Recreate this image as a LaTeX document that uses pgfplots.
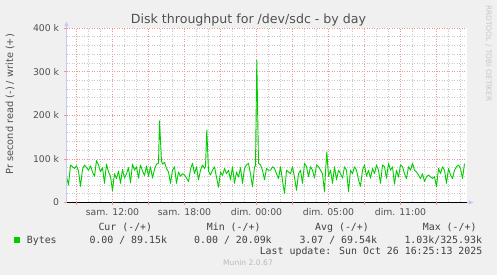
\documentclass[border=0pt]{standalone}
\usepackage{pgfplots}
\pgfplotsset{compat=1.18}
\usepackage{fontspec}
\setmainfont{DejaVu Sans}
\newfontfamily\dvs{DejaVu Sans}
\newfontfamily\dvsm{DejaVu Sans Mono}
\definecolor{bg}{HTML}{F0F0F0}
\definecolor{majgrid}{RGB}{236,150,150}
\definecolor{mingrid}{RGB}{200,200,200}
\definecolor{axcol}{RGB}{200,200,245}
\definecolor{labgray}{HTML}{505050}
\definecolor{leggray}{HTML}{404040}
\definecolor{wm}{RGB}{200,200,200}
\definecolor{munin}{RGB}{185,185,185}
\definecolor{dgreen}{HTML}{00CC00}
\begin{document}
\begin{tikzpicture}[x=1pt,y=1pt]
\fill[bg] (0,0) rectangle (497,275);
\fill[white] (66.5,72.5) rectangle (466.5,247);
\begin{axis}[
  at={(66.5pt,72.5pt)}, anchor=south west,
  scale only axis, width=400pt, height=174.5pt,
  xmin=0, xmax=400, ymin=0, ymax=400,
  axis line style={draw=none},
  grid=both,
  major grid style={draw=majgrid, dash pattern=on 1pt off 1.5pt, line width=0.6pt},
  minor grid style={draw=mingrid, dash pattern=on 1pt off 1.5pt, line width=0.6pt},
  xtick={10,46,82,118,154,190,226,262,298,334,370},
  xticklabels={,sam. 12:00,,sam. 18:00,,dim. 00:00,,dim. 05:00,,dim. 11:00,},
  minor xtick={22,34,58,70,94,106,130,142,166,178,202,214,238,250,274,286,310,322,346,358,382,394},
  ytick={0,100,200,300,400},
  yticklabels={0,100 k,200 k,300 k,400 k},
  minor ytick={20,40,60,80,120,140,160,180,220,240,260,280,320,340,360,380},
  major tick length=0pt, minor tick length=0pt,
  /pgf/number format/assume math mode=true,
  tick label style={font=\dvs\fontsize{9.3}{11}\selectfont, text=labgray},
  yticklabel style={anchor=east, inner sep=0pt, xshift=-7.2pt},
  xticklabel style={anchor=base, inner sep=0pt, yshift=-13.5pt},
  clip=false,
]
\addplot[draw=dgreen, line width=0.9pt, line join=round] coordinates {
(0,60) (2,40) (4,86) (6,82) (8,78) (10,84) (12,72) (14,37) (16,76) (18,86) (20,80) (22,74) (24,84) (26,70) (28,60) (30,96) (32,86) (34,70) (36,80) (38,44) (40,88) (42,70) (44,60) (46,27) (48,66)
(50,55) (52,72) (54,44) (56,76) (58,56) (60,66) (62,80) (64,45) (66,88) (68,74) (70,82) (72,56) (74,86) (76,72) (78,62) (80,84) (82,60) (84,82) (86,56) (88,76) (90,88) (92,90) (93,187) (95,95) (96,88) (98,92) (100,78) (102,70) (104,44)
(106,74) (108,82) (110,44) (112,70) (114,60) (116,66) (118,63) (120,56) (122,48) (124,76) (126,90) (128,66) (130,82) (132,52) (134,74) (136,86) (138,78) (139,82) (140.3,166) (142,72) (144,63) (146,74) (148,82) (150,58) (152,35) (154,70) (156,62) (158,78) (160,66) (162,74) (164,52) (166,82) (168,44) (170,70) (172,58) (174,80) (176,44) (178,78) (180,86) (182,90) (184,66) (186,36) (188,82) (189,84) (190.3,326) (192,90) (194,86) (196,74) (198,52) (200,78) (202,74)
(204,74) (206,82) (208,78) (210,66) (212,55) (214,82) (216,50) (218,21) (220,74) (222,70) (224,66) (226,82) (228,58) (230,28) (232,66) (234,74) (236,44) (238,90) (240,82) (242,59) (244,82) (246,74) (248,56) (250,86) (252,82) (254,74) (256,66) (258,25) (259,70) (260.3,116) (262,60) (264,74) (266,44) (268,82) (270,52) (272,74) (274,66) (276,56) (278,82) (280,74) (282,25) (284,74) (286,66) (288,82) (290,74) (292,52) (294,37) (296,74) (298,86) (300,60) (302,74)
(304,56) (306,78) (308,66) (310,86) (312,74) (314,44) (316,86) (318,82) (320,55) (322,90) (324,74) (326,82) (328,42) (330,74) (332,58) (334,86) (336,82) (338,66) (340,55) (342,82) (344,74) (346,90) (348,74) (350,70) (352,63) (354,55) (356,66) (358,48) (360,59) (362,63) (364,59) (366,55) (368,59) (370,36) (372,78) (374,66) (376,82) (378,74) (380,44) (382,78) (384,63) (386,55) (388,74) (390,82) (392,86) (394,78) (396,55) (398,89)
};
\addplot[draw=black, line width=1.1pt] coordinates {(0,0) (400,0)};
\end{axis}
% axis decorations
\draw[axcol, line width=0.8pt] (66.5,72.5) -- (66.5,250);
\fill[axcol] (66.5,253.5) -- (64.2,248.8) -- (68.8,248.8) -- cycle;
\draw[axcol, line width=0.8pt] (466.5,72.5) -- (469,72.5);
\fill[axcol] (473.5,72.5) -- (468.5,74.8) -- (468.5,70.2) -- cycle;
\foreach \k in {0,...,10} {\draw[majgrid, line width=0.7pt] (76.5+36*\k,72.5) -- ++(0,-2.5);}
\foreach \k in {0,...,4} {\draw[majgrid, line width=0.7pt] (66.5,72.5+43.625*\k) -- ++(-2.5,0);}
% title and labels
\node[font=\dvs\fontsize{12.6}{15}\selectfont, text=labgray, anchor=base, inner sep=0pt] at (248.5,251) {Disk throughput for /dev/sdc - by day};
\node[font=\dvs\fontsize{9.8}{12}\selectfont, text=labgray, rotate=90, inner sep=0pt] at (10,170.8) {Pr second read (-) / write (+)};
\node[font=\dvs\fontsize{7.5}{9}\selectfont, text=wm, rotate=-90, anchor=west, inner sep=0pt] at (488.5,270) {RRDTOOL / TOBI OETIKER};
% legend
\fill[dgreen] (14,32.3) rectangle (19.5,37.7);
\begin{scope}[every node/.style={font=\dvsm\fontsize{9.9}{12}\selectfont, text=leggray, inner sep=0pt, anchor=base west}]
\node at (98.3,44.5) {Cur (-/+)};
\node at (206.7,44.5) {Min (-/+)};
\node at (315,44.5) {Avg (-/+)};
\node at (422.7,44.5) {Max (-/+)};
\node at (26.7,31.8) {Bytes};
\node at (89.3,31.8) {0.00 / 89.15k};
\node at (194,31.8) {0.00 / 20.09k};
\node at (299.3,31.8) {3.07 / 69.54k};
\node at (404.3,31.8) {1.03k/325.93k};
\node[anchor=base east] at (482.5,20.5) {Last update: Sun Oct 26 16:25:13 2025};
\end{scope}
\node[font=\dvs\fontsize{7.6}{9}\selectfont, text=munin, anchor=base, inner sep=0pt] at (248,9.5) {Munin 2.0.67};
\pgfresetboundingbox
\path[use as bounding box] (0,0) rectangle (497,275);
\end{tikzpicture}
\end{document}
